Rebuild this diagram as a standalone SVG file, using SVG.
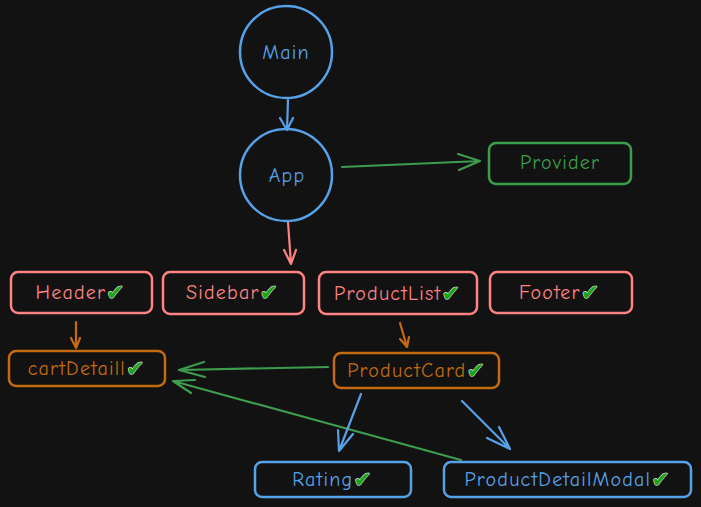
<svg xmlns="http://www.w3.org/2000/svg" width="701" height="507" viewBox="0 0 701 507">
<defs>
<style>
text{font-family:"Comic Neue","Liberation Sans",sans-serif;font-size:20px;letter-spacing:1.2px;text-anchor:middle;dominant-baseline:central}
.b{stroke:#56a2e8}.r{stroke:#ff8383}.g{stroke:#3d9c4e}.o{stroke:#c46a10}
.tb{fill:#56a2e8}.tr{fill:#ff8383}.tg{fill:#3d9c4e}.to{fill:#c46a10}
.node rect,.node circle{fill:none;stroke-width:2.5}
.edge{fill:none;stroke-width:2.2;stroke-linecap:round;stroke-linejoin:round}
.ck{fill:#1aa51a;stroke:#ffffff;stroke-width:1;paint-order:stroke;font-family:"DejaVu Sans",sans-serif;font-size:22px;letter-spacing:0}
</style>
</defs>
<rect width="701" height="507" fill="#121212"/>
<g id="connectors">
<path class="edge b" d="M288 100 L287 130 M280 118 L287 130 L293 118"/>
<path class="edge g" d="M342 167 L480 161 M458 154 L480 161 L459 170"/>
<path class="edge r" d="M288 222 L291 264 M284 250 L291 264 L296 250"/>
<path class="edge o" d="M76 322 L76 348 M71 338 L76 348 L80 338"/>
<path class="edge o" d="M400 323 L407 347 M400 339 L407 347 L409 337"/>
<path class="edge g" d="M328 367 L179 370 M204 362 L179 370 L205 377"/>
<path class="edge g" d="M461 460 L173 381 M195 380 L173 381 L191 393"/>
<path class="edge b" d="M361 394 L339 451 M338 430 L339 451 L353 434"/>
<path class="edge b" d="M462 401 L510 449 M487 438 L510 449 L499 427"/>
</g>
<g id="Main" class="node"><circle class="b" cx="286" cy="52" r="46"/><text class="tb" x="286" y="52">Main</text></g>
<g id="App" class="node"><circle class="b" cx="286" cy="175" r="46"/><text class="tb" x="287" y="175">App</text></g>
<g id="Provider" class="node"><rect class="g" x="489" y="143" width="142" height="41" rx="7"/><text class="tg" x="560" y="162">Provider</text></g>
<g id="Header" class="node"><rect class="r" x="11" y="272" width="141" height="41" rx="7"/><text class="tr" x="80" y="292">Header<tspan class="ck">✔</tspan></text></g>
<g id="Sidebar" class="node"><rect class="r" x="163" y="272" width="141" height="42" rx="7"/><text class="tr" x="232" y="292">Sidebar<tspan class="ck">✔</tspan></text></g>
<g id="ProductList" class="node"><rect class="r" x="319" y="272" width="158" height="42" rx="7"/><text class="tr" x="397" y="293">ProductList<tspan class="ck">✔</tspan></text></g>
<g id="Footer" class="node"><rect class="r" x="490" y="272" width="142" height="41" rx="7"/><text class="tr" x="559" y="292">Footer<tspan class="ck">✔</tspan></text></g>
<g id="cartDetaill" class="node"><rect class="o" x="9" y="351" width="156" height="35" rx="7"/><text class="to" x="86" y="368">cartDetaill<tspan class="ck">✔</tspan></text></g>
<g id="ProductCard" class="node"><rect class="o" x="334" y="353" width="165" height="35" rx="7"/><text class="to" x="416" y="370">ProductCard<tspan class="ck">✔</tspan></text></g>
<g id="Rating" class="node"><rect class="b" x="255" y="462" width="156" height="35" rx="7"/><text class="tb" x="332" y="479">Rating<tspan class="ck">✔</tspan></text></g>
<g id="ProductDetailModal" class="node"><rect class="b" x="444" y="462" width="247" height="35" rx="7"/><text class="tb" x="567" y="479">ProductDetailModal<tspan class="ck">✔</tspan></text></g>
</svg>
